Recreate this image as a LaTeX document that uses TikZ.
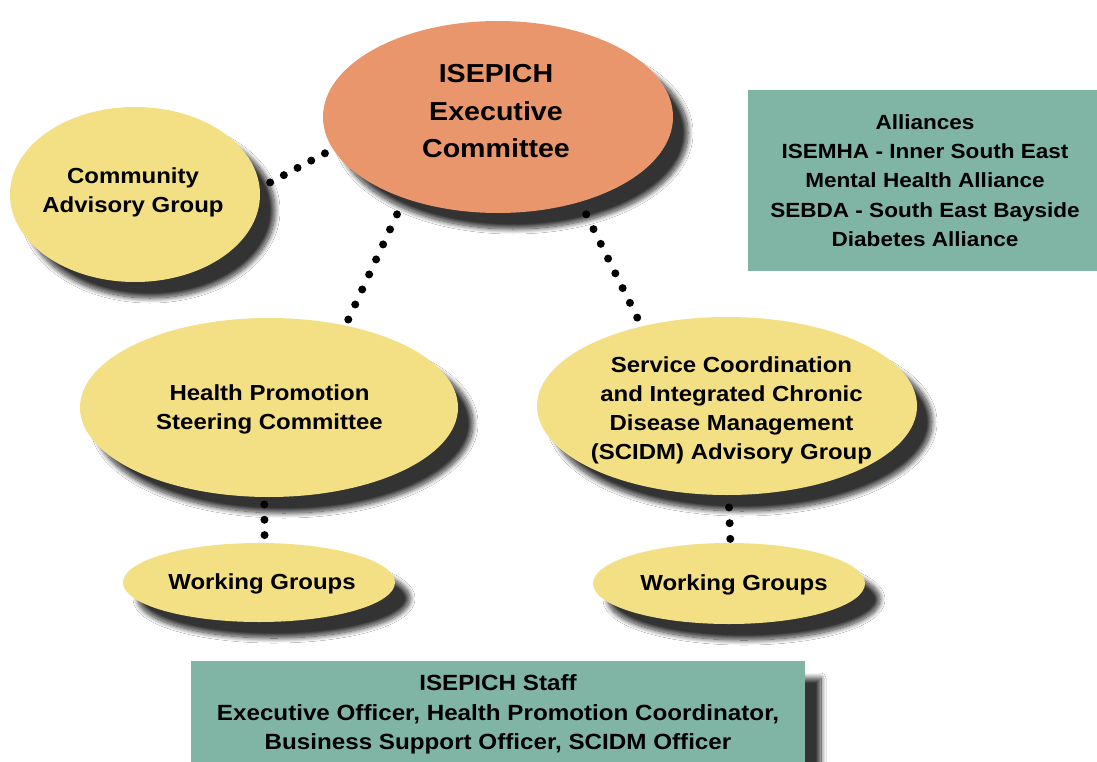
\documentclass[tikz,border=0pt]{standalone}
\usepackage{fontspec}
\setmainfont{Liberation Sans}[FakeStretch=1.1]
\usetikzlibrary{shapes.geometric,shadows.blur}
\definecolor{salmonfill}{HTML}{E9966C}
\definecolor{sandfill}{HTML}{F3E084}
\definecolor{boxteal}{HTML}{80B5A6}
\begin{document}
\begin{tikzpicture}[x=1pt,y=-1pt,
  oval/.style={ellipse, fill=sandfill, inner sep=0pt,
    blur shadow={shadow xshift=15pt, shadow yshift=-16pt, shadow blur radius=5pt, shadow opacity=80, shadow blur steps=14}},
  ovaltext/.style={align=center, inner sep=0pt, font=\bfseries\fontsize{21.8}{29}\selectfont},
  infobox/.style={rectangle, fill=boxteal, inner sep=0pt, align=center},
  dotline/.style={line width=8pt, line cap=round, dash pattern=on 0pt off #1}]
\useasboundingbox (0,0) rectangle (1097,762);
\fill[white] (0,0) rectangle (1097,762);

% ellipses
\node[oval, fill=salmonfill, minimum width=350pt, minimum height=192pt] (exec) at (498,117) {};
\node[oval, minimum width=250pt, minimum height=175pt] (cag) at (135,194.5) {};
\node[oval, minimum width=378pt, minimum height=179pt] (hpsc) at (269,407.5) {};
\node[oval, minimum width=380pt, minimum height=178pt] (scidm) at (727,406) {};
\node[oval, minimum width=272pt, minimum height=79pt] (wga) at (259,582.5) {};
\node[oval, minimum width=272pt, minimum height=81pt] (wgb) at (729,583.5) {};

% texts
\node[ovaltext, font=\bfseries\fontsize{26}{37.5}\selectfont] (exect) at (496,111.5) {ISEPICH\\Executive\\Committee};
\node[ovaltext] (cagt) at (133,192.2) {Community\\Advisory Group};
\node[ovaltext] (hpsct) at (269.5,409) {Health Promotion\\Steering Committee};
\node[ovaltext] (scidmt) at (731.5,410) {Service Coordination\\and Integrated Chronic\\Disease Management\\(SCIDM) Advisory Group};
\node[ovaltext] (wgat) at (262,584) {Working Groups};
\node[ovaltext] (wgbt) at (734,585) {Working Groups};

% boxes
\node[infobox, minimum width=354pt, minimum height=180pt, font=\bfseries\fontsize{20.5}{29.4}\selectfont] (alli) at (925,180.5)
  {Alliances\\ISEMHA - Inner South East\\Mental Health Alliance\\SEBDA - South East Bayside\\Diabetes Alliance};
\node[infobox, minimum width=614pt, minimum height=107pt, font=\bfseries\fontsize{22}{29.5}\selectfont,
  blur shadow={shadow xshift=16pt, shadow yshift=-17pt, shadow blur radius=5pt, shadow opacity=80, shadow blur steps=14}] (staff) at (498,714.5)
  {ISEPICH Staff\\Executive Officer, Health Promotion Coordinator,\\Business Support Officer, SCIDM Officer};

% dotted connectors
\draw[dotline=15.5pt, shorten <=11.7pt, shorten >=8.1pt] (cag.3.5) -- (exec.191.6);
\draw[dotline=16.55pt, shorten <=17.7pt, shorten >=6.5pt] (exec.221.3) -- (hpsc.47.8);
\draw[dotline=16.45pt, shorten <=13.8pt, shorten >=8.7pt] (exec.314.35) -- (scidm.137.25);
\draw[dotline=15.3pt, shorten <=7.3pt, shorten >=6.9pt] (hpsc.267.1) -- (wga.82.1);
\draw[dotline=15.7pt, shorten <=12.3pt, shorten >=3.1pt] (scidm.271.9) -- (wgb.88.6);
\end{tikzpicture}
\end{document}
